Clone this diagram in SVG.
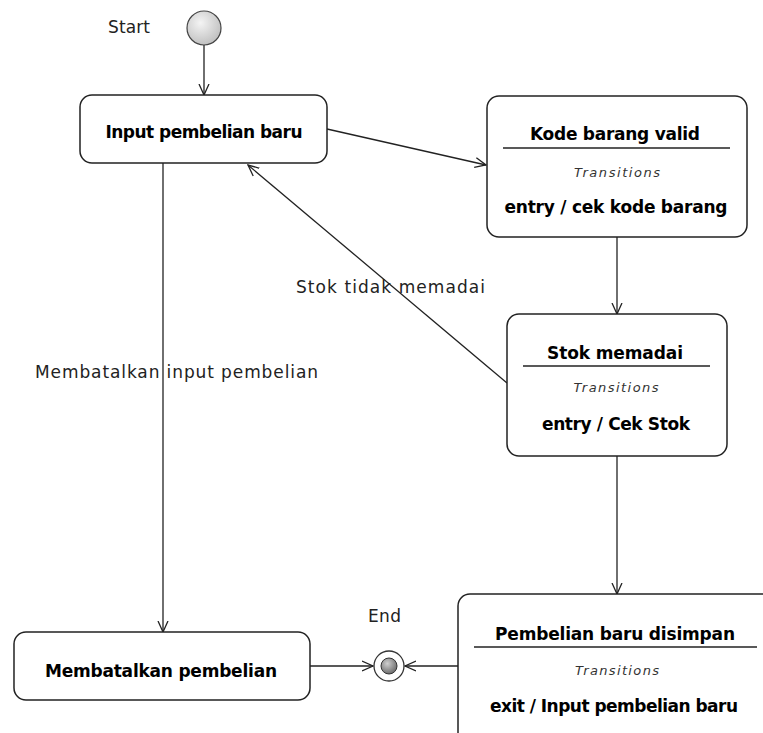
<svg xmlns="http://www.w3.org/2000/svg" width="763" height="733" viewBox="0 0 763 733">
<style>
.box{fill:#fff;stroke:#222;stroke-width:1.5}
.t{font-family:"DejaVu Sans","Liberation Sans",Arial,sans-serif;font-weight:bold;font-size:17px;fill:#000;text-anchor:middle}
.s{font-family:"DejaVu Sans","Liberation Sans",Arial,sans-serif;font-style:italic;font-size:13px;fill:#333;text-anchor:middle}
.l{font-family:"DejaVu Sans","Liberation Sans",Arial,sans-serif;font-size:17px;fill:#222}
.c{fill:none;stroke:#222;stroke-width:1.3}
.sep{stroke:#222;stroke-width:1.5}
</style>
<defs>
<marker id="arr" viewBox="0 0 12 12" refX="11" refY="6" markerWidth="12" markerHeight="12" markerUnits="userSpaceOnUse" orient="auto">
<path d="M0,1 L11,6 L0,11" fill="none" stroke="#222" stroke-width="1.3"/>
</marker>
<radialGradient id="g1" cx="40%" cy="35%" r="70%">
<stop offset="0" stop-color="#f4f4f4"/><stop offset="1" stop-color="#bdbdbd"/>
</radialGradient>
<radialGradient id="g2" cx="40%" cy="35%" r="70%">
<stop offset="0" stop-color="#cfcfcf"/><stop offset="1" stop-color="#666"/>
</radialGradient>
</defs>
<rect width="763" height="733" fill="#fff"/>

<g id="connectors">
<line class="c" x1="204" y1="45" x2="204" y2="95" marker-end="url(#arr)"/>
<line class="c" x1="327" y1="129" x2="486" y2="165" marker-end="url(#arr)"/>
<line class="c" x1="617" y1="237" x2="617" y2="314" marker-end="url(#arr)"/>
<line class="c" x1="507" y1="383" x2="248" y2="165" marker-end="url(#arr)"/>
<text class="l" x="296" y="293" textLength="189">Stok tidak  memadai</text>
<line class="c" x1="163" y1="163" x2="163" y2="632" marker-end="url(#arr)"/>
<text class="l" x="35" y="378" textLength="283">Membatalkan  input pembelian</text>
<line class="c" x1="617" y1="456" x2="617" y2="594" marker-end="url(#arr)"/>
<line class="c" x1="310" y1="666" x2="373" y2="666" marker-end="url(#arr)"/>
<line class="c" x1="458" y1="666" x2="405" y2="666" marker-end="url(#arr)"/>
</g>

<g id="start">
<circle cx="204" cy="28" r="17" fill="url(#g1)" stroke="#444" stroke-width="1.2"/>
<text class="l" x="108" y="33" textLength="42">Start</text>
</g>

<g id="end">
<circle cx="389" cy="666" r="15" fill="#fff" stroke="#333" stroke-width="1.3"/>
<circle cx="389" cy="666" r="8" fill="url(#g2)" stroke="#333" stroke-width="1"/>
<text class="l" x="368" y="622" textLength="33">End</text>
</g>

<g id="input-pembelian-baru">
<rect class="box" x="80" y="95" width="247" height="68" rx="12"/>
<text class="t" x="204" y="138" textLength="197">Input pembelian baru</text>
</g>

<g id="kode-barang-valid">
<rect class="box" x="487" y="96" width="260" height="141" rx="12"/>
<text class="t" x="615" y="140" textLength="170">Kode barang valid</text>
<line class="sep" x1="503" y1="148" x2="730" y2="148"/>
<text class="s" x="617" y="177" textLength="86">Transitions</text>
<text class="t" x="616" y="213" textLength="223">entry / cek kode barang</text>
</g>

<g id="stok-memadai">
<rect class="box" x="507" y="314" width="220" height="142" rx="12"/>
<text class="t" x="615" y="359" textLength="136">Stok memadai</text>
<line class="sep" x1="523" y1="366" x2="710" y2="366"/>
<text class="s" x="616" y="392" textLength="85">Transitions</text>
<text class="t" x="616" y="430" textLength="148">entry / Cek Stok</text>
</g>

<g id="membatalkan-pembelian">
<rect class="box" x="14" y="632" width="296" height="68" rx="12"/>
<text class="t" x="161" y="677" textLength="232">Membatalkan pembelian</text>
</g>

<g id="pembelian-baru-disimpan">
<rect class="box" x="458" y="594" width="320" height="160" rx="12"/>
<text class="t" x="615" y="640" textLength="240">Pembelian baru disimpan</text>
<line class="sep" x1="474" y1="647" x2="757" y2="647"/>
<text class="s" x="617" y="675" textLength="84">Transitions</text>
<text class="t" x="614" y="712" textLength="248">exit / Input pembelian baru</text>
</g>
</svg>
